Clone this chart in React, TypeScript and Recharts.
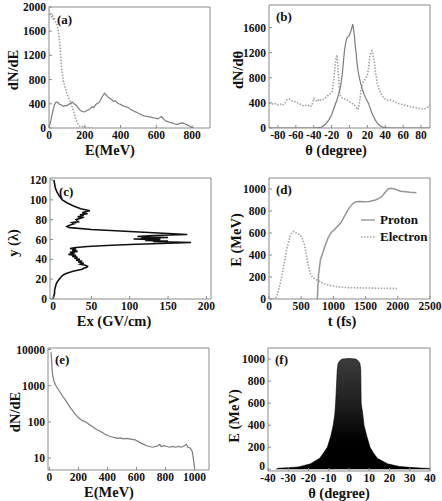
import { LineChart, Line, AreaChart, Area, XAxis, YAxis, ReferenceArea, Legend } from 'recharts'

// ---- panel (a): energy spectra ----
const aTicksX = [0, 200, 400, 600, 800]
const aTicksY = [0, 400, 800, 1200, 1600, 2000]
const aSolid: [number, number][] = [
  [0, 0], [10, 120], [20, 260], [30, 380], [40, 430], [50, 420], [60, 390], [70, 380], [80, 360], [90, 370],
  [100, 370], [110, 390], [120, 410], [130, 430], [140, 400], [150, 380], [160, 350], [170, 310], [180, 280],
  [190, 270], [200, 265], [210, 290], [220, 300], [230, 320], [240, 350], [250, 340], [260, 380], [270, 410],
  [280, 420], [290, 470], [300, 530], [310, 575], [320, 545], [330, 510], [340, 490], [350, 470], [360, 440],
  [370, 450], [380, 420], [390, 400], [400, 390], [410, 370], [420, 360], [430, 350], [440, 345], [450, 320],
  [460, 300], [470, 290], [480, 270], [490, 260], [500, 240], [510, 230], [520, 210], [530, 200], [540, 195],
  [550, 190], [560, 185], [570, 180], [580, 170], [590, 165], [600, 160], [610, 150], [620, 175], [630, 185],
  [640, 150], [650, 120], [660, 110], [670, 100], [680, 90], [690, 80], [700, 70], [710, 65], [720, 60],
  [730, 75], [740, 85], [750, 80], [760, 70], [770, 55], [780, 45], [790, 20], [800, 5], [810, 0],
]
const aDotted: [number, number][] = [
  [0, 1950], [5, 1880], [10, 1900], [15, 1820], [20, 1850], [25, 1780], [30, 1800], [35, 1760], [40, 1740],
  [45, 1700], [50, 1640], [55, 1550], [60, 1400], [65, 1200], [70, 1000], [75, 880], [80, 780], [90, 670],
  [100, 560], [110, 500], [120, 440], [130, 340], [140, 250], [150, 150], [160, 80], [170, 35], [180, 25],
  [190, 20], [200, 12], [215, 8], [230, 3], [250, 0],
]

// ---- panel (b): angular distributions ----
const bTicksX = [-80, -60, -40, -20, 0, 20, 40, 60, 80]
const bTicksY = [0, 400, 800, 1200, 1600]
const bSolid: [number, number][] = [
  [-90, 0], [-45, 0], [-40, 3], [-35, 8], [-31, 15], [-27, 60], [-23, 130], [-20, 210], [-18, 290], [-16, 370],
  [-14, 450], [-12, 550], [-10, 660], [-8, 870], [-6.5, 1100], [-5.5, 1250], [-4, 1380], [-3, 1430], [-1.5, 1460],
  [0, 1480], [1, 1520], [2, 1560], [3, 1620], [3.7, 1655], [4.5, 1580], [5.5, 1460], [6.5, 1300], [7.5, 1180],
  [8.5, 1020], [10, 870], [12, 740], [14, 635], [16, 550], [17.5, 500], [19, 450], [21, 400], [23, 320],
  [25, 240], [27, 180], [28.7, 130], [31, 80], [34, 37], [37, 15], [40, 5], [45, 1], [50, 0], [90, 0],
]
const bDotted: [number, number][] = [
  [-90, 400], [-87, 390], [-85, 375], [-82, 390], [-80, 370], [-77, 380], [-75, 360], [-72, 400], [-70, 450],
  [-67, 460], [-64, 430], [-61, 420], [-58, 400], [-55, 380], [-52, 360], [-50, 350], [-47, 370], [-44, 340],
  [-42, 360], [-40, 470], [-38, 440], [-36, 420], [-34, 460], [-32, 440], [-30, 450], [-28, 470], [-26, 490],
  [-24, 520], [-22, 540], [-20, 560], [-19, 620], [-18, 720], [-17, 850], [-16, 1000], [-15, 1130], [-14, 1165],
  [-13, 1000], [-12, 780], [-11, 560], [-10, 500], [-8, 480], [-6, 470], [-4, 450], [-2, 440], [0, 420],
  [2, 400], [4, 380], [6, 360], [8, 320], [9.5, 295], [11, 380], [12.5, 560], [14, 680], [15.5, 740], [17, 770],
  [18.5, 790], [20, 850], [21, 920], [22, 1050], [23, 1150], [24, 1210], [25, 1230], [26, 1180], [27, 1100],
  [28, 1030], [29, 900], [31, 715], [33, 620], [35, 555], [37, 500], [40, 460], [43, 440], [46, 450], [50, 420],
  [55, 390], [60, 370], [65, 350], [70, 335], [75, 320], [80, 305], [83, 300], [86, 320], [88, 335], [90, 370],
]

// ---- panel (c): field profile, [y (lambda), Ex (GV/cm)] ----
const cTicksX = [0, 50, 100, 150, 200]
const cTicksY = [0, 20, 40, 60, 80, 100, 120]
const cProfile: [number, number][] = [
  [120, 1], [116, 2], [112, 3], [108, 5], [104, 8], [100, 12], [97, 18], [94, 26], [91, 36], [89, 48],
  [88, 42], [87, 38], [86, 45], [85, 35], [84, 40], [83, 32], [82, 38], [80, 30], [78, 33], [77, 25],
  [76, 28], [74, 20], [73, 18], [72, 22], [70, 50], [68, 100], [66, 150], [65, 175], [64, 130], [63, 110],
  [62, 150], [61.5, 115], [61, 140], [60.5, 105], [60, 125], [59.5, 140], [59, 120], [58.5, 150], [58, 130],
  [57, 180], [56, 140], [55, 100], [54, 70], [53, 45], [52, 30], [51, 22], [50, 30], [49, 25], [48, 32],
  [47, 22], [46, 28], [45, 20], [44, 30], [43, 25], [42, 32], [41, 28], [40, 35], [39, 30], [38, 38],
  [37, 33], [36, 40], [35, 36], [34, 42], [33, 45], [32, 44], [31, 40], [30, 38], [29, 32], [28, 26],
  [27, 22], [26, 18], [25, 15], [24, 13], [22, 10], [20, 8], [18, 6], [15, 4], [12, 3], [9, 2], [6, 2],
  [3, 1], [0, 0],
]

// ---- panel (d): maximum energy vs time ----
const dTicksX = [0, 500, 1000, 1500, 2000, 2500]
const dTicksY = [0, 200, 400, 600, 800, 1000]
const dSeries = ['Proton', 'Electron']
const dProton: [number, number][] = [
  [750, 0], [770, 225], [800, 360], [843, 435], [880, 500], [917, 555], [960, 600], [1015, 630], [1060, 660],
  [1113, 690], [1160, 740], [1210, 795], [1260, 840], [1309, 870], [1350, 885], [1407, 886], [1480, 883],
  [1554, 886], [1652, 900], [1700, 912], [1750, 930], [1800, 965], [1848, 1000], [1897, 1006], [1950, 1000],
  [2044, 980], [2120, 975], [2191, 970], [2289, 965],
]
const dElectron: [number, number][] = [
  [60, 0], [100, 5], [132, 45], [170, 130], [206, 225], [240, 340], [280, 465], [310, 530], [328, 570],
  [350, 595], [377, 615], [400, 612], [426, 600], [460, 590], [500, 570], [525, 540], [549, 495], [575, 420],
  [598, 345], [620, 280], [647, 225], [680, 195], [720, 180], [770, 165], [818, 150], [880, 135], [966, 120],
  [1060, 112], [1162, 105], [1300, 102], [1505, 100], [1700, 98], [1946, 96], [2000, 95],
]

// ---- panel (e): proton spectrum, log scale ----
const eTicksX = [0, 200, 400, 600, 800, 1000]
const eTicksY = [10, 100, 1000, 10000]
const eSpectrum: [number, number][] = [
  [10, 8500], [12, 7500], [15, 5000], [18, 3000], [22, 2000], [28, 1500], [35, 1200], [45, 1000], [60, 800],
  [75, 650], [90, 520], [110, 400], [130, 300], [150, 230], [175, 170], [200, 130], [225, 110], [250, 100],
  [275, 85], [300, 72], [325, 62], [350, 55], [375, 48], [400, 42], [425, 39], [450, 37], [470, 35], [490, 36],
  [510, 34], [530, 35], [550, 34], [570, 33], [590, 32], [610, 29], [630, 26], [650, 24], [670, 22], [690, 21],
  [710, 20], [730, 21], [750, 22], [760, 24], [770, 21], [790, 22], [810, 21], [830, 20], [850, 21], [870, 20],
  [890, 21], [910, 20], [930, 22], [945, 24], [955, 20], [970, 19], [985, 15], [995, 8], [1002, 4.7],
]

// ---- panel (f): energy vs angle, outer envelope of the particle cloud ----
const fTicksX = [-40, -30, -20, -10, 0, 10, 20, 30, 40]
const fTicksY = [0, 200, 400, 600, 800, 1000]
const fEnvelope: [number, number][] = [
  [-36, 0], [-35, 10], [-30, 15], [-25, 22], [-19, 50], [-14.5, 100], [-12.5, 150], [-10.7, 200], [-9, 300],
  [-7.8, 400], [-7, 500], [-6.6, 600], [-6.2, 750], [-5.8, 900], [-5.4, 960], [-4.5, 985], [-3.3, 1000],
  [0, 1005], [3.3, 1000], [4.5, 985], [5.4, 960], [5.8, 900], [5.9, 750], [6, 600], [6.8, 500], [7.4, 400],
  [8.8, 300], [10.4, 200], [12, 150], [14, 100], [19, 50], [25, 25], [30, 18], [35, 12], [40, 8],
]

const SERIF = "'Liberation Serif', 'DejaVu Serif', 'Times New Roman', serif"
const AXIS = '#8a8a8a'
const SOLID = '#7c7c7c'
const DOTS = '#a2a2a2'
const YW = 48
const MT = 8
const MR = 12
const XH = 36

const tickStyle = { fontSize: 11.5, fontFamily: SERIF, fontWeight: 700, fill: '#111' }
const titleStyle = { fontSize: 14.5, fontFamily: SERIF, fontWeight: 700, fill: '#111' }

type Box = [number, number, number, number]
type Place = { left: number; top: number; width: number; height: number }

function place([x0, y0, x1, y1]: Box): Place {
  return { left: x0 - YW, top: y0 - MT, width: x1 - x0 + YW + MR, height: y1 - y0 + MT + XH }
}

const pts = (rows: [number, number][]) => rows.map(([x, y]) => ({ x, y }))

function xTitle(text: string, ax: number, ay: number, o: Place) {
  return () => (
    <text x={ax - o.left} y={ay - o.top} textAnchor="middle" dominantBaseline="central" fontFamily={SERIF} style={titleStyle}>
      {text}
    </text>
  )
}

function yTitle(text: string, ax: number, ay: number, o: Place) {
  const x = ax - o.left
  const y = ay - o.top
  return () => (
    <text x={x} y={y} transform={`rotate(-90 ${x} ${y})`} textAnchor="middle" dominantBaseline="central" fontFamily={SERIF} style={titleStyle}>
      {text}
    </text>
  )
}

// left tick that lifts the bottom "0" a little so it clears the x labels below it
function liftedZeroTick(props: any) {
  const { x, y, payload } = props
  const lift = payload.value === 0 ? -3 : 0
  return (
    <text x={x} y={y + lift} textAnchor="end" dominantBaseline="central" fontFamily={SERIF} style={tickStyle}>
      {payload.value}
    </text>
  )
}

const axisCommon = {
  type: 'number' as const,
  allowDataOverflow: true,
  interval: 0 as const,
  axisLine: false,
  tickSize: -3,
  tick: tickStyle,
  tickLine: { stroke: AXIS },
}

const margin = { top: MT, right: MR, bottom: 0, left: 0 }

function frame(x: [number, number], y: [number, number], tag: string, offset: number) {
  return (
    <ReferenceArea
      x1={x[0]}
      x2={x[1]}
      y1={y[0]}
      y2={y[1]}
      fill="none"
      stroke={AXIS}
      strokeWidth={1}
      label={{ value: tag, position: 'insideTopLeft', offset, style: { ...tickStyle, fontSize: 13 } }}
    />
  )
}

function Panel({ o, children }: { o: Place; children: React.ReactNode }) {
  return <div style={{ position: 'absolute', left: o.left, top: o.top, width: o.width, height: o.height }}>{children}</div>
}

const pA = place([49, 7, 210, 128])
const pB = place([269, 5, 430, 128])
const pC = place([50, 178, 211, 299])
const pD = place([269, 178, 430, 299])
const pE = place([48, 348, 209, 470])
const pF = place([268, 348, 430, 471])

function DLegend({ payload }: any) {
  const items = [...(payload || [])].sort((a: any, b: any) => dSeries.indexOf(a.value) - dSeries.indexOf(b.value))
  return (
    <div style={{ fontFamily: SERIF, fontWeight: 700, fontSize: 13, color: '#111', lineHeight: '17px' }}>
      {items.map((p: any) => (
        <div key={p.value} style={{ display: 'flex', alignItems: 'center' }}>
          <svg width={16} height={6} style={{ marginRight: 3 }}>
            <line x1={0} y1={3} x2={14} y2={3} stroke={p.color} strokeWidth={1.4} strokeDasharray={p.payload?.strokeDasharray} />
          </svg>
          {p.value}
        </div>
      ))}
    </div>
  )
}

export default function App() {
  return (
    <div style={{ position: 'absolute', left: 0, top: 0, width: 442, height: 501, overflow: 'hidden', background: '#fff', fontFamily: SERIF }}>
      <Panel o={pA}>
        <LineChart width={pA.width} height={pA.height} margin={margin}>
          <XAxis {...axisCommon} dataKey="x" domain={[0, 900]} ticks={aTicksX} height={XH} tickMargin={6} label={xTitle('E(MeV)', 110, 150, pA)} />
          <YAxis {...axisCommon} dataKey="y" domain={[0, 2000]} ticks={aTicksY} width={YW} tickMargin={6} label={yTitle('dN/dE', 13, 70, pA)} />
          {frame([0, 900], [0, 2000], '(a)', 8)}
          <Line data={pts(aDotted)} dataKey="y" stroke={DOTS} strokeWidth={1.6} strokeDasharray="1.5 1.5" dot={false} isAnimationActive={false} />
          <Line data={pts(aSolid)} dataKey="y" stroke={SOLID} strokeWidth={1.2} dot={false} isAnimationActive={false} />
        </LineChart>
      </Panel>

      <Panel o={pB}>
        <LineChart width={pB.width} height={pB.height} margin={margin}>
          <XAxis {...axisCommon} dataKey="x" domain={[-90, 90]} ticks={bTicksX} height={XH} tickMargin={6} label={xTitle('θ (degree)', 336, 150, pB)} />
          <YAxis {...axisCommon} dataKey="y" domain={[0, 1960]} ticks={bTicksY} width={YW} tickMargin={6} label={yTitle('dN/dθ', 238, 70, pB)} />
          {frame([-90, 90], [0, 1960], '(b)', 7)}
          <Line data={pts(bDotted)} dataKey="y" stroke={DOTS} strokeWidth={1.6} strokeDasharray="1.5 1.5" dot={false} isAnimationActive={false} />
          <Line data={pts(bSolid)} dataKey="y" stroke={SOLID} strokeWidth={1.2} dot={false} isAnimationActive={false} />
        </LineChart>
      </Panel>

      <Panel o={pC}>
        <LineChart layout="vertical" width={pC.width} height={pC.height} margin={margin} data={cProfile.map(([y, ex]) => ({ y, ex }))}>
          <XAxis {...axisCommon} domain={[-4, 206]} ticks={cTicksX} height={XH} tickMargin={6} label={xTitle('Ex (GV/cm)', 114, 321, pC)} />
          <YAxis {...axisCommon} dataKey="y" reversed domain={[0, 122]} ticks={cTicksY} width={YW} tickMargin={6} label={yTitle('y (λ)', 13, 243, pC)} />
          {frame([-4, 206], [0, 122], '(c)', 9)}
          <Line dataKey="ex" stroke="#111" strokeWidth={1.6} dot={false} isAnimationActive={false} />
        </LineChart>
      </Panel>

      <Panel o={pD}>
        <LineChart width={pD.width} height={pD.height} margin={margin}>
          <XAxis {...axisCommon} dataKey="x" domain={[0, 2500]} ticks={dTicksX} height={XH} tickMargin={6} label={xTitle('t (fs)', 342, 321, pD)} />
          <YAxis {...axisCommon} dataKey="y" domain={[0, 1100]} ticks={dTicksY} width={YW} tickMargin={6} label={yTitle('E (MeV)', 236, 240, pD)} />
          {frame([0, 2500], [0, 1100], '(d)', 7)}
          <Legend
            layout="vertical"
            align="center"
            verticalAlign="middle"
            wrapperStyle={{ left: 140, top: 41, width: 'auto' }}
            content={DLegend}
          />
          <Line name="Proton" data={pts(dProton)} dataKey="y" stroke="#959595" strokeWidth={1.5} dot={false} isAnimationActive={false} />
          <Line name="Electron" data={pts(dElectron)} dataKey="y" stroke={DOTS} strokeWidth={1.6} strokeDasharray="1.5 1.5" dot={false} isAnimationActive={false} />
        </LineChart>
      </Panel>

      <Panel o={pE}>
        <LineChart width={pE.width} height={pE.height} margin={margin}>
          <XAxis {...axisCommon} dataKey="x" domain={[-10, 1100]} ticks={eTicksX} height={XH} tickMargin={6} label={xTitle('E(MeV)', 109, 492, pE)} />
          <YAxis {...axisCommon} dataKey="y" scale="log" domain={[4.7, 11000]} ticks={eTicksY} width={YW} tickMargin={6} label={yTitle('dN/dE', 15, 412, pE)} />
          {frame([-10, 1100], [4.7, 11000], '(e)', 7)}
          <Line data={pts(eSpectrum)} dataKey="y" stroke={SOLID} strokeWidth={1.2} dot={false} isAnimationActive={false} />
        </LineChart>
      </Panel>

      <Panel o={pF}>
        <AreaChart width={pF.width} height={pF.height} margin={margin} data={pts(fEnvelope)}>
          <defs>
            <linearGradient id="fCloud" x1="0" y1="0" x2="0" y2="1">
              <stop offset="0" stopColor="#3c3c3c" />
              <stop offset="0.45" stopColor="#1c1c1c" />
              <stop offset="0.75" stopColor="#000" />
            </linearGradient>
          </defs>
          <XAxis {...axisCommon} dataKey="x" domain={[-40, 40]} ticks={fTicksX} height={XH} tickMargin={6} label={xTitle('θ (degree)', 339, 493, pF)} />
          <YAxis {...axisCommon} dataKey="y" domain={[-15, 1100]} ticks={fTicksY} width={YW} tickMargin={6} tick={liftedZeroTick} label={yTitle('E (MeV)', 234, 416, pF)} />
          {frame([-40, 40], [-15, 1100], '(f)', 7)}
          <Area type="linear" dataKey="y" stroke="#000" strokeWidth={0.6} fill="url(#fCloud)" fillOpacity={1} isAnimationActive={false} />
        </AreaChart>
      </Panel>
    </div>
  )
}
